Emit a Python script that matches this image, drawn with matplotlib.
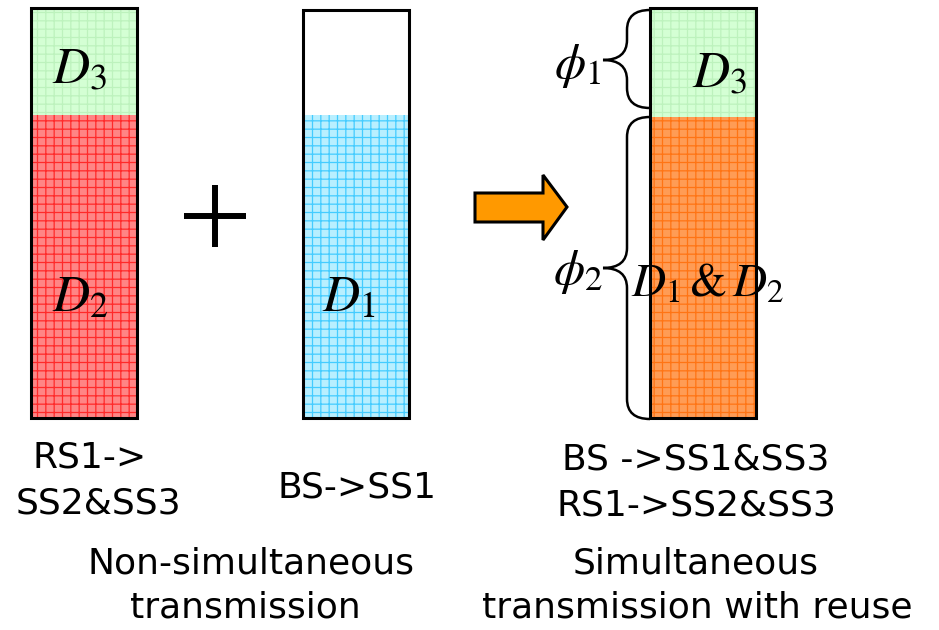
import numpy as np
import matplotlib.pyplot as plt
from matplotlib.path import Path
from matplotlib.patches import PathPatch, Polygon

plt.rcParams['mathtext.fontset'] = 'stix'
plt.rcParams['hatch.linewidth'] = 0.9

# bar data (heights in pixel-like units, stacked from the base)
bar_x = [84, 356, 703]
lower = [303, 303, 301]          # D2, D1, D1&D2
upper = [107, 0, 109]            # D3, (empty), D3
totals = [410, 408, 410]
lower_face = ['#ff8585', '#b8efff', '#ff9c55']
lower_hatch = ['#ff2a2a', '#44ccff', '#ff7414']
upper_face = ['#d4ffd4', 'white', '#d4ffd4']
upper_hatch = ['#bdf2bd', 'white', '#bdf2bd']
lower_labels = [r'$D_2$', r'$D_1$', r'$D_1\,&\,D_2$']
upper_labels = [r'$D_3$', '', r'$D_3$']
bar_captions = [['RS1->', 'SS2&SS3'], ['BS->SS1'], ['BS ->SS1&SS3', 'RS1->SS2&SS3']]
group_captions = [['Non-simultaneous', 'transmission'],
                  ['Simultaneous', 'transmission with reuse']]

base = 418
width = 106

fig = plt.figure(figsize=(9.39, 6.30), dpi=100)
ax = fig.add_axes([0, 0, 1, 1])
ax.set_xlim(0, 939)
ax.set_ylim(630, 0)
ax.axis('off')

lo = np.array(lower)
up = np.array(upper)
ax.bar(bar_x, -lo, bottom=base, width=width, color=lower_face,
       edgecolor=lower_hatch, hatch='++', linewidth=0)
ax.bar(bar_x, -up, bottom=base - lo, width=width, color=upper_face,
       edgecolor=upper_hatch, hatch='++', linewidth=0)
ax.bar(bar_x, -np.array(totals), bottom=base, width=width, fill=False,
       edgecolor='black', linewidth=2.2)

# labels inside bars
big = 37
ax.text(80, 297, lower_labels[0], fontsize=big, ha='center', va='center')
ax.text(349, 297, lower_labels[1], fontsize=big, ha='center', va='center')
ax.text(708, 284, lower_labels[2], fontsize=34, ha='center', va='center')
ax.text(80, 70, upper_labels[0], fontsize=big, ha='center', va='center')
ax.text(720, 74, upper_labels[2], fontsize=big, ha='center', va='center')

# captions
fs = 26
ax.text(90, 458, bar_captions[0][0], fontsize=fs, ha='center', va='center')
ax.text(98, 503, bar_captions[0][1], fontsize=fs, ha='center', va='center')
ax.text(357, 488, bar_captions[1][0], fontsize=fs, ha='center', va='center')
ax.text(696, 459, bar_captions[2][0], fontsize=fs, ha='center', va='center')
ax.text(696, 505, bar_captions[2][1], fontsize=fs, ha='center', va='center')
ax.text(251, 563, group_captions[0][0], fontsize=fs, ha='center', va='center')
ax.text(245, 608, group_captions[0][1], fontsize=fs, ha='center', va='center')
ax.text(696, 563, group_captions[1][0], fontsize=fs, ha='center', va='center')
ax.text(697, 608, group_captions[1][1], fontsize=fs, ha='center', va='center')

# plus sign
ax.plot([184, 246], [216, 216], color='black', lw=4.3, solid_capstyle='butt')
ax.plot([215, 215], [185, 247], color='black', lw=4.3, solid_capstyle='butt')

# block arrow
arrow = [(475, 193), (543, 193), (543, 175), (567, 207), (543, 240),
         (543, 222), (475, 222)]
ax.add_patch(Polygon(arrow, closed=True, facecolor='#ff9900',
                     edgecolor='black', lw=2.2, joinstyle='miter'))


def brace(y0, y1, ym, xb=627, xe=650, xt=603, r=20):
    verts = [(xe, y0), (xb, y0), (xb, y0 + r),
             (xb, ym - r), (xb, ym), (xt, ym),
             (xb, ym), (xb, ym + r),
             (xb, y1 - r), (xb, y1), (xe, y1)]
    codes = [Path.MOVETO, Path.CURVE3, Path.CURVE3,
             Path.LINETO, Path.CURVE3, Path.CURVE3,
             Path.CURVE3, Path.CURVE3,
             Path.LINETO, Path.CURVE3, Path.CURVE3]
    ax.add_patch(PathPatch(Path(verts, codes), fill=False, lw=1.8,
                           edgecolor='black'))


brace(10, 108, 60)
brace(117, 419, 268)
ax.text(578, 66, r'$\phi_1$', fontsize=36, ha='center', va='center')
ax.text(578, 272, r'$\phi_2$', fontsize=36, ha='center', va='center')

fig.savefig('out.png', dpi=100)
